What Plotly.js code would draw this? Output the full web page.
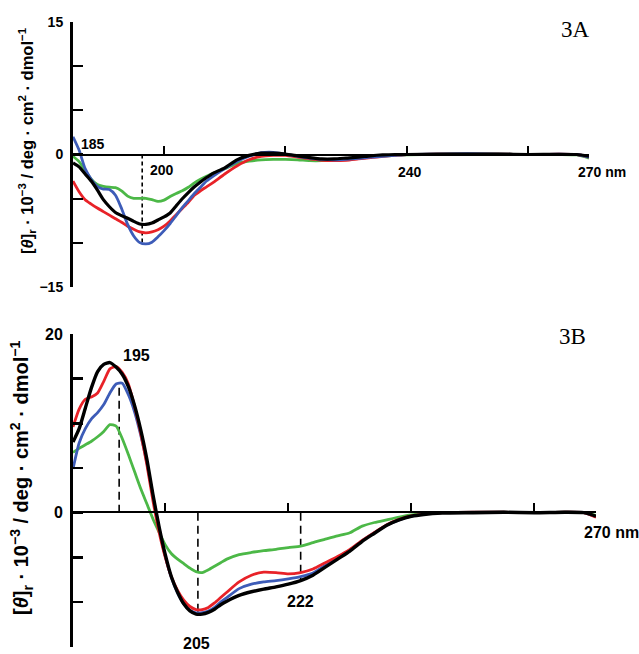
<!DOCTYPE html>
<html>
<head>
<meta charset="utf-8">
<script src="https://cdn.plot.ly/plotly-3.0.1.min.js"></script>
<style>html,body{margin:0;padding:0;background:#fff;}#chart{width:639px;height:654px;}</style>
</head>
<body>
<div id="chart"></div>
<script>
// ---------- Panel 3A data ----------
const nmA = [185,186,187,188,189,190,191,192,193,194,195,196,197,198,199,200,201,202,203,204,205,206,207,208,210,212,214,216,218,220,222,224,226,228,230,232,234,236,238,240,245,250,255,260,265,268,270];
const blueA  = [2.0,0.5,-1.6,-2.8,-3.6,-3.9,-3.95,-4.6,-6.1,-7.9,-9.2,-9.95,-10.1,-9.9,-9.3,-8.6,-7.8,-6.9,-6.0,-5.2,-4.4,-3.7,-3.0,-2.5,-1.6,-0.8,-0.2,0.2,0.25,0.05,-0.2,-0.4,-0.55,-0.6,-0.55,-0.45,-0.3,-0.2,-0.1,0,0.05,0.1,0.05,0,0.05,0,-0.3];
const redA   = [-3.0,-4.2,-5.1,-5.6,-6.05,-6.45,-6.85,-7.25,-7.65,-8.1,-8.45,-8.75,-8.85,-8.75,-8.5,-8.1,-7.5,-6.8,-6.1,-5.4,-4.6,-4.1,-3.65,-3.2,-2.2,-1.3,-0.6,-0.2,-0.1,-0.1,-0.3,-0.5,-0.65,-0.7,-0.65,-0.5,-0.35,-0.2,-0.1,0,0.05,0.05,0.05,0,0.05,0,-0.3];
const blackA = [-0.95,-1.4,-2.2,-3.0,-4.0,-5.1,-5.9,-6.55,-6.9,-7.2,-7.55,-7.85,-7.9,-7.75,-7.4,-7.05,-6.6,-5.8,-5.0,-4.3,-3.65,-3.1,-2.6,-2.15,-1.5,-0.6,-0.1,0.15,0.15,0.05,-0.15,-0.35,-0.5,-0.5,-0.4,-0.3,-0.15,-0.05,0,0,0.05,0.05,0.05,0,0.03,0,-0.2];
const greenA = [-0.2,-0.8,-1.8,-2.8,-3.4,-3.6,-3.7,-3.75,-4.1,-4.7,-4.95,-4.95,-4.95,-5.1,-5.3,-5.15,-4.75,-4.4,-4.1,-3.7,-3.2,-2.8,-2.45,-2.15,-1.6,-1.0,-0.75,-0.6,-0.56,-0.56,-0.6,-0.7,-0.7,-0.6,-0.5,-0.35,-0.25,-0.15,-0.1,-0.05,0,0.05,0.05,0,0,-0.05,-0.4];
const markNmA = [196.4];
const markValA = [-10.1];

// ---------- Panel 3B data ----------
const nmB = [185,186,187,188,189,190,191,192,193,194,195,196,197,198,199,200,201,202,203,204,205,206,207,208,209,210,212,214,216,218,220,222,224,226,228,230,232,234,236,238,240,242,245,250,255,260,265,268,270];
const blackB = [7.9,9.4,11.7,14.0,15.8,16.6,16.8,16.3,15.5,14.1,12.0,9.3,6.0,2.0,-1.6,-4.7,-7.2,-8.9,-10.2,-11.0,-11.35,-11.35,-11.15,-10.8,-10.3,-9.9,-9.25,-8.85,-8.55,-8.3,-8.0,-7.6,-7.0,-6.1,-5.2,-4.3,-3.2,-2.3,-1.4,-0.8,-0.4,-0.2,-0.05,0,0.05,0,0.05,0,-0.4];
const redB   = [9.6,11.6,12.7,12.95,13.4,14.7,16.1,16.35,15.7,14.4,11.9,8.9,5.4,1.3,-2.2,-5.0,-7.2,-8.7,-9.8,-10.5,-10.85,-10.85,-10.6,-10.1,-9.5,-8.9,-7.75,-7.0,-6.65,-6.7,-6.85,-6.7,-6.3,-5.6,-4.9,-4.1,-3.1,-2.2,-1.35,-0.75,-0.35,-0.15,0,0.05,0.05,0,0.05,0,-0.5];
const blueB  = [4.9,7.8,9.4,10.5,11.2,12.1,13.4,14.4,14.5,13.2,11.3,8.7,5.6,1.8,-1.8,-4.9,-7.3,-9.0,-10.2,-10.9,-11.2,-11.2,-11.0,-10.6,-10.0,-9.5,-8.5,-8.0,-7.75,-7.6,-7.4,-7.15,-6.75,-5.9,-5.0,-4.2,-3.15,-2.25,-1.4,-0.8,-0.4,-0.15,0,0.05,0.05,0,0.05,0,-0.45];
const greenB = [6.75,7.2,7.6,8.0,8.5,9.1,9.85,9.7,8.3,6.5,4.6,2.7,1.0,-0.7,-2.2,-3.6,-4.6,-5.2,-5.7,-6.2,-6.6,-6.7,-6.4,-6.0,-5.6,-5.2,-4.7,-4.45,-4.25,-4.1,-3.9,-3.75,-3.35,-2.95,-2.6,-2.25,-1.5,-1.1,-0.8,-0.5,-0.25,-0.1,0,0.05,0.05,0,0.05,0,-0.3];
const markNmB = [192.5, 205.3, 222];
const markValB = [14.6, -11.4, -7.6];
const markLabelsB = ['195', '205', '222'];

// ---------- tick labels ----------
const yTickValsA = [-15,0,15];
const yTickTextA = ['\u221215','0','15'];
const yTickValsB = [-15,0,20];
const yTickTextB = ['\u221215','0','20'];
const xTickVals = [200,220,240,260,270];
const xLabelsA = ['185','200','240','270 nm'];
const xLabelsB = ['270 nm'];
const panelTitles = ['3A','3B'];
const yTitle = '[<i>\u03b8</i>]<sub>r</sub> \u00b7 10<sup>\u22123</sup> / deg \u00b7 cm<sup>2</sup> \u00b7 dmol<sup>\u22121</sup>';

const colors = {blue:'#3d5cb8', red:'#e82228', green:'#4cb847', black:'#000000'};
const W = 639, H = 654;
const px = v => v / W, py = v => 1 - v / H;

function curve(x, y, color, width, xa, ya) {
  return {x, y, type:'scatter', mode:'lines', xaxis:xa, yaxis:ya,
          line:{color, width, shape:'spline', smoothing:0.6}, hoverinfo:'skip', showlegend:false};
}
function dashes(nms, vals, dash, xa, ya) {
  const xs = [], ys = [];
  nms.forEach((n, i) => { xs.push(n, n, null); ys.push(0, vals[i], null); });
  return {x:xs, y:ys, type:'scatter', mode:'lines', xaxis:xa, yaxis:ya,
          line:{color:'#000', width:1.6, dash}, hoverinfo:'skip', showlegend:false};
}

const traces = [
  dashes(markNmA, markValA, '4px,3px', 'x', 'y'),
  curve(nmA, greenA, colors.green, 2.8, 'x', 'y'),
  curve(nmA, redA, colors.red, 2.8, 'x', 'y'),
  curve(nmA, blueA, colors.blue, 2.8, 'x', 'y'),
  curve(nmA, blackA, colors.black, 3.2, 'x', 'y'),
  dashes(markNmB, markValB, '8px,5px', 'x2', 'y2'),
  curve(nmB, greenB, colors.green, 2.8, 'x2', 'y2'),
  curve(nmB, blueB, colors.blue, 2.8, 'x2', 'y2'),
  curve(nmB, redB, colors.red, 2.8, 'x2', 'y2'),
  curve(nmB, blackB, colors.black, 3.4, 'x2', 'y2')
];

const lblFont = s => ({family:'Liberation Sans, Arial, sans-serif', size:s, color:'#000', weight:'bold'});

const xAxisBase = {range:[185,270], anchor:'free', showline:true, linecolor:'#000', linewidth:2,
  ticks:'inside', tickvals:xTickVals, ticklen:8, tickwidth:2, tickcolor:'#000',
  showticklabels:false, showgrid:false, zeroline:false, fixedrange:true};
const yAxisBase = {showline:true, linecolor:'#000', linewidth:3, ticks:'inside', ticklen:10,
  tickwidth:2.5, tickcolor:'#000', showgrid:false, zeroline:false, fixedrange:true, ticklabelstandoff:4,
  minor:{tickmode:'linear', tick0:0, dtick:5, ticks:'inside', ticklen:10, tickwidth:2.5, tickcolor:'#000', showgrid:false}};

const annotations = [
  // panel A x labels
  {xref:'x', yref:'y', x:185, y:0, text:xLabelsA[0], showarrow:false, font:lblFont(14), xanchor:'left', yanchor:'middle', xshift:6, yshift:11},
  {xref:'x', yref:'y', x:200, y:0, text:xLabelsA[1], showarrow:false, font:lblFont(14), xanchor:'center', yanchor:'middle', xshift:-2, yshift:-15},
  {xref:'x', yref:'y', x:240, y:0, text:xLabelsA[2], showarrow:false, font:lblFont(14), xanchor:'center', yanchor:'middle', xshift:3, yshift:-17},
  {xref:'x', yref:'y', x:270, y:0, text:xLabelsA[3], showarrow:false, font:lblFont(14), xanchor:'center', yanchor:'middle', xshift:13, yshift:-17},
  // panel B x label
  {xref:'x2', yref:'y2', x:270, y:0, text:xLabelsB[0], showarrow:false, font:lblFont(16), xanchor:'center', yanchor:'middle', xshift:15, yshift:-20},
  // panel B marker labels
  {xref:'x2', yref:'y2', x:markNmB[0], y:markValB[0], text:markLabelsB[0], showarrow:false, font:lblFont(16), xanchor:'center', yanchor:'middle', xshift:17, yshift:27},
  {xref:'x2', yref:'y2', x:markNmB[1], y:markValB[1], text:markLabelsB[1], showarrow:false, font:lblFont(16), xanchor:'center', yanchor:'middle', xshift:-1, yshift:-29},
  {xref:'x2', yref:'y2', x:markNmB[2], y:markValB[2], text:markLabelsB[2], showarrow:false, font:lblFont(16), xanchor:'center', yanchor:'middle', xshift:0, yshift:-21},
  // panel titles
  {xref:'paper', yref:'paper', x:px(575), y:py(30), text:panelTitles[0], showarrow:false, font:{family:'Liberation Serif, Times New Roman, serif', size:23, color:'#000'}, xanchor:'center', yanchor:'middle'},
  {xref:'paper', yref:'paper', x:px(572), y:py(336), text:panelTitles[1], showarrow:false, font:{family:'Liberation Serif, Times New Roman, serif', size:23, color:'#000'}, xanchor:'center', yanchor:'middle'},
  // y titles
  {xref:'paper', yref:'paper', x:px(27), y:py(141), text:yTitle, textangle:-90, showarrow:false, font:lblFont(16.5), xanchor:'center', yanchor:'middle'},
  {xref:'paper', yref:'paper', x:px(21), y:py(478), text:yTitle, textangle:-90, showarrow:false, font:lblFont(20), xanchor:'center', yanchor:'middle'}
];

const layout = {
  width:W, height:H, margin:{l:0, r:0, t:0, b:0}, paper_bgcolor:'#fff', plot_bgcolor:'rgba(0,0,0,0)',
  showlegend:false,
  xaxis: Object.assign({}, xAxisBase, {domain:[px(73), px(589)], position:py(155)}),
  yaxis: Object.assign({}, yAxisBase, {domain:[py(287.3), py(21.7)], range:[-15,15], anchor:'x',
    tickvals:yTickValsA, ticktext:yTickTextA, tickfont:lblFont(14)}),
  xaxis2: Object.assign({}, xAxisBase, {domain:[px(73), px(596)], position:py(511.7)}),
  yaxis2: Object.assign({}, yAxisBase, {domain:[py(646.7), py(334)], range:[-15,20], anchor:'x2',
    tickvals:yTickValsB, ticktext:yTickTextB, tickfont:lblFont(16)}),
  annotations
};

Plotly.newPlot('chart', traces, layout, {staticPlot:true, displayModeBar:false});
</script>
</body>
</html>
